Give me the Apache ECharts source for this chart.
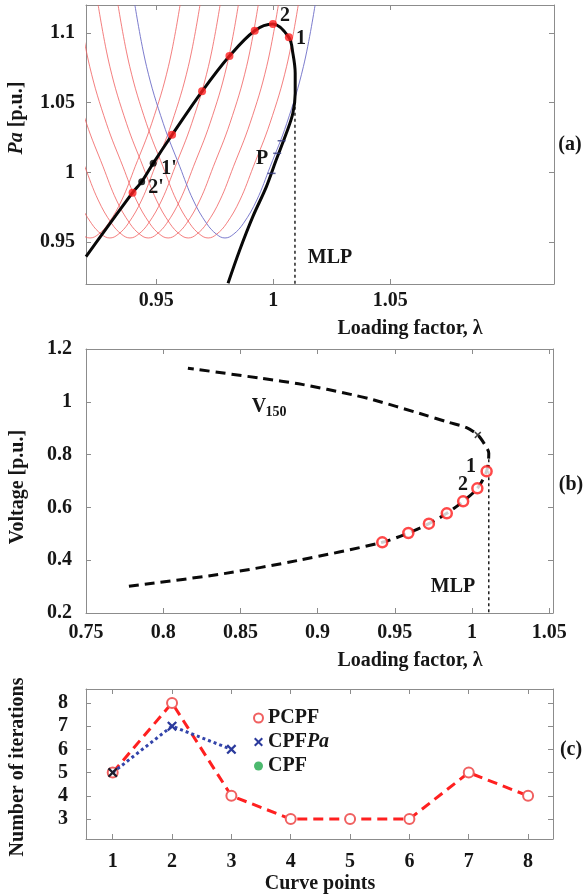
<!DOCTYPE html>
<html><head><meta charset="utf-8">
<script src="https://cdn.jsdelivr.net/npm/echarts@6/dist/echarts.min.js"></script>
<style>html,body{margin:0;padding:0;background:#fff}#c{width:583px;height:896px}</style>
</head><body><div id="c"></div>
<script>
// ---------- Panel (a): Pa vs loading factor ----------
const profileDLambda = [-0.0385,-0.0335,-0.0264,-0.0193,-0.0136,-0.0079,-0.0035,0,0.0035,0.0079,0.0136,0.0193,0.0264,0.0335,0.0385];
const profilePa      = [1.12,1.0758,1.0352,1.0041,0.9802,0.9635,0.9555,0.953,0.9555,0.9635,0.9802,1.0041,1.0352,1.0758,1.12];
const redCurveCenters = [0.9217,0.9302,0.9388,0.9466,0.9551,0.9637,0.9722];
const blueCurveCenter = 0.9794;
const blackLambda = [0.92,0.9399,0.9438,0.9487,0.9568,0.9696,0.9813,0.9921,0.9999,1.0067,1.0084,1.0094,1.0094,1.0084,1.0056,1.0013,0.9971,0.9913,0.9857,0.9807];
const blackPa     = [0.9396,0.9855,0.9933,1.0065,1.027,1.0581,1.0834,1.1016,1.1064,1.0968,1.0854,1.071,1.0567,1.0424,1.028,1.009,0.9898,0.9683,0.9444,0.9205];
const redPointLambda = [0.9399,0.9568,0.9696,0.9813,0.9921,0.9999,1.0067];
const redPointPa     = [0.9855,1.027,1.0581,1.0834,1.1016,1.1064,1.0968];
const primePointLambda = [0.9487,0.9438];
const primePointPa     = [1.0065,0.9933];
const pTickLambda = [1.0036,1.0017,0.9993];
const pTickPa     = [1.0227,1.0137,0.9993];
const mlpALambda = 1.0093;
const mlpAPa = [1.06,0.92];
const aXTicks = [0.95,1,1.05];
const aYTicks = [0.95,1,1.05,1.1];

// ---------- Panel (b): Voltage vs loading factor ----------
const v150Lambda = [0.7778,0.8393,0.8876,0.9419,0.9588,0.9721,0.9837,0.9943,1.0035,1.0095,1.0109,1.0083,1.0038,0.9962,0.985,0.9657,0.9359,0.9223,0.8899,0.8635,0.816];
const v150V      = [0.301,0.349,0.3995,0.4677,0.503,0.5384,0.5775,0.623,0.6722,0.7366,0.805,0.838,0.8744,0.903,0.922,0.9567,1.008,1.027,1.066,1.089,1.1275];
const circleLambda = [0.9419,0.9588,0.9721,0.9837,0.9943,1.0035,1.0095];
const circleV      = [0.4677,0.503,0.5384,0.5775,0.623,0.6722,0.7366];
const starLambda = [1.0038];
const starV = [0.8744];
const mlpBLambda = 1.0109;
const mlpBV = [0.805,0.2];
const bXTicks = [0.75,0.8,0.85,0.9,0.95,1,1.05];
const bYTicks = [0.2,0.4,0.6,0.8,1,1.2];

// ---------- Panel (c): iterations ----------
const curvePoints = [1,2,3,4,5,6,7,8];
const pcpfIter  = [5,8,4,3,3,3,5,4];
const cpfPaIter = [5,7,6];
const cpfIter   = [];
const cYTicks = [3,4,5,6,7,8];

const FONT = '"Liberation Serif","Times New Roman",serif';
const AXC = '#8c8c8c';
const TXT = '#161616';
const XPATH = 'path://M0,1.6L1.6,0L5,3.4L8.4,0L10,1.6L6.6,5L10,8.4L8.4,10L5,6.6L1.6,10L0,8.4L3.4,5Z';

function ax(kind, gi, pos, min, max, ticks, showLabel, margin) {
  return {
    type:'value', gridIndex:gi, position:pos, min:min, max:max,
    axisLine:{show:true,onZero:false,lineStyle:{color:AXC,width:1}},
    axisTick:{show:true,inside:true,length:5,lineStyle:{color:AXC},customValues:ticks},
    axisLabel:{show:showLabel,customValues:ticks,margin:margin||8,fontFamily:FONT,fontWeight:'bold',fontSize:20,color:TXT},
    splitLine:{show:false}
  };
}

const xAxes = [
  ax('x',0,'bottom',0.92,1.12,aXTicks,true,7),
  ax('x',0,'top',0.92,1.12,aXTicks,false),
  ax('x',1,'bottom',0.75,1.0525,bXTicks,true,10),
  ax('x',1,'top',0.75,1.0525,bXTicks,false),
  ax('x',2,'bottom',0.55,8.42,curvePoints,true,13),
  ax('x',2,'top',0.55,8.42,curvePoints,false)
];
const yAxes = [
  ax('y',0,'left',0.92,1.12,aYTicks,true,11),
  ax('y',0,'right',0.92,1.12,aYTicks,false),
  ax('y',1,'left',0.2,1.2,bYTicks,true,14),
  ax('y',1,'right',0.2,1.2,bYTicks,false),
  ax('y',2,'left',2.14,8.6,cYTicks,true,18),
  ax('y',2,'right',2.14,8.6,cYTicks,false)
];

const zip = (xs, ys) => xs.map((x,i)=>[x, ys[i]]);

const series = [];
redCurveCenters.forEach((c,k)=>{
  series.push({name:'red'+k,type:'line',xAxisIndex:0,yAxisIndex:0,silent:true,z:1,
    data: profileDLambda.map((d,i)=>[c+d, profilePa[i]]),
    smooth:0.4, showSymbol:false, lineStyle:{color:'rgba(240,95,95,0.8)',width:1}});
});
series.push({name:'blue',type:'line',xAxisIndex:0,yAxisIndex:0,silent:true,z:2,
  data: profileDLambda.map((d,i)=>[blueCurveCenter+d, profilePa[i]]),
  smooth:0.4, showSymbol:false, lineStyle:{color:'rgba(110,110,200,0.9)',width:1}});
series.push({name:'mlpA',type:'line',xAxisIndex:0,yAxisIndex:0,silent:true,z:2,
  data: mlpAPa.map(p=>[mlpALambda,p]), showSymbol:false,
  lineStyle:{color:'#222',width:1.5,type:[3,3]}});
series.push({name:'blackA',type:'line',xAxisIndex:0,yAxisIndex:0,silent:true,z:3,
  data: zip(blackLambda,blackPa), smooth:0.35, showSymbol:false,
  lineStyle:{color:'#080808',width:3}});
series.push({name:'pTicks',type:'scatter',xAxisIndex:0,yAxisIndex:0,silent:true,z:4,
  data: zip(pTickLambda,pTickPa), symbol:'rect', symbolSize:[8,1.5], itemStyle:{color:'#333a80'}});
series.push({name:'redPts',type:'scatter',xAxisIndex:0,yAxisIndex:0,silent:true,z:5,
  data: zip(redPointLambda,redPointPa), symbol:'circle', symbolSize:8, itemStyle:{color:'#ff1f1f'}});
series.push({name:'primePts',type:'scatter',xAxisIndex:0,yAxisIndex:0,silent:true,z:5,
  data: zip(primePointLambda,primePointPa), symbol:'circle', symbolSize:7, itemStyle:{color:'#000'}});

// (b)
series.push({name:'mlpB',type:'line',xAxisIndex:2,yAxisIndex:2,silent:true,z:2,
  data: mlpBV.map(v=>[mlpBLambda,v]), showSymbol:false,
  lineStyle:{color:'#222',width:1.5,type:[3,3]}});
series.push({name:'V150',type:'line',xAxisIndex:2,yAxisIndex:2,silent:true,z:3,
  data: zip(v150Lambda,v150V), smooth:0.3, showSymbol:false,
  lineStyle:{color:'#0a0a0a',width:3,type:[10,6]}});
series.push({name:'star',type:'scatter',xAxisIndex:2,yAxisIndex:2,silent:true,z:4,
  data: zip(starLambda,starV), symbol:XPATH, symbolSize:7, itemStyle:{color:'#111'}});
series.push({name:'circles',type:'scatter',xAxisIndex:2,yAxisIndex:2,silent:true,z:5,
  data: zip(circleLambda,circleV), symbol:'circle', symbolSize:10,
  itemStyle:{color:'#fff',borderColor:'#ff1a1a',borderWidth:2.5}});

// (c)
series.push({name:'PCPF',type:'line',xAxisIndex:4,yAxisIndex:4,z:3,
  data: zip(curvePoints,pcpfIter), symbol:'emptyCircle', symbolSize:10,
  itemStyle:{color:'#f06060',borderWidth:1.2},
  lineStyle:{color:'#ff2020',width:3,type:[10,6]}});
series.push({name:'CPFPa',type:'line',xAxisIndex:4,yAxisIndex:4,z:4,
  data: cpfPaIter.map((v,i)=> i===0 ? {value:[curvePoints[i],v],itemStyle:{color:'#1c1c2a'}} : [curvePoints[i],v]),
  symbol:XPATH, symbolSize:10, itemStyle:{color:'#2b3a9c'},
  lineStyle:{color:'#3344aa',width:3,type:'dotted'}});
series.push({name:'CPF',type:'scatter',xAxisIndex:4,yAxisIndex:4,z:5,
  data: cpfIter.map((v,i)=>[curvePoints[i],v]), symbol:'circle', symbolSize:9, itemStyle:{color:'#1fa84a'}});

function txt(text, x, y, opts) {
  opts = opts || {};
  return {type:'text', x:x, y:y, rotation:opts.rot||0, z:100, silent:true,
    style:{text:text, font:'bold '+(opts.size||20)+'px '+FONT, fill:TXT,
      textAlign:opts.align||'center', textVerticalAlign:'middle', rich:opts.rich}};
}
const R = Math.PI/2;
const graphics = [
  // panel (a)
  txt('{i|Pa} [p.u.]', 17, 118, {rot:R, rich:{i:{fontStyle:'italic',fontWeight:'bold',fontSize:20,fontFamily:FONT,fill:TXT}}}),
  txt('Loading factor, λ', 410, 329),
  txt('2', 285, 16), txt('1', 301, 39),
  txt("1'", 169, 169), txt("2'", 156, 188),
  txt('P', 262, 159), txt('MLP', 330, 258),
  txt('(a)', 570, 145),
  // panel (b)
  txt('Voltage [p.u.]', 18, 487, {rot:R}),
  txt('Loading factor, λ', 410, 661),
  txt('V', 259, 407), txt('150', 276, 412, {size:14}),
  txt('1', 471, 467), txt('2', 463, 485),
  txt('MLP', 453, 587), txt('(b)', 571, 485),
  // panel (c)
  txt('Number of iterations', 18, 767, {rot:R}),
  txt('Curve points', 320, 884),
  txt('(c)', 571, 750)
];

const chart = echarts.init(document.getElementById('c'), null, {renderer:'canvas'});
chart.setOption({
  animation:false,
  backgroundColor:'#fff',
  grid:[
    {left:86, top:5, width:468, height:279},
    {left:86, top:349, width:467, height:264},
    {left:86, top:689, width:467, height:150}
  ],
  xAxis:xAxes, yAxis:yAxes,
  legend:{
    data:[{name:'PCPF',icon:'emptyCircle'},{name:'CPFPa',icon:XPATH},{name:'CPF',icon:'circle'}],
    orient:'vertical', left:248, top:703, itemGap:4, itemWidth:9, itemHeight:9,
    selectedMode:false,
    formatter: n => n==='CPFPa' ? 'CPF{i|Pa}' : n,
    textStyle:{fontFamily:FONT,fontWeight:'bold',fontSize:20,color:TXT,
      rich:{i:{fontStyle:'italic',fontWeight:'bold',fontSize:20,fontFamily:FONT,color:TXT}}}
  },
  series:series,
  graphic:graphics
});
</script></body></html>
